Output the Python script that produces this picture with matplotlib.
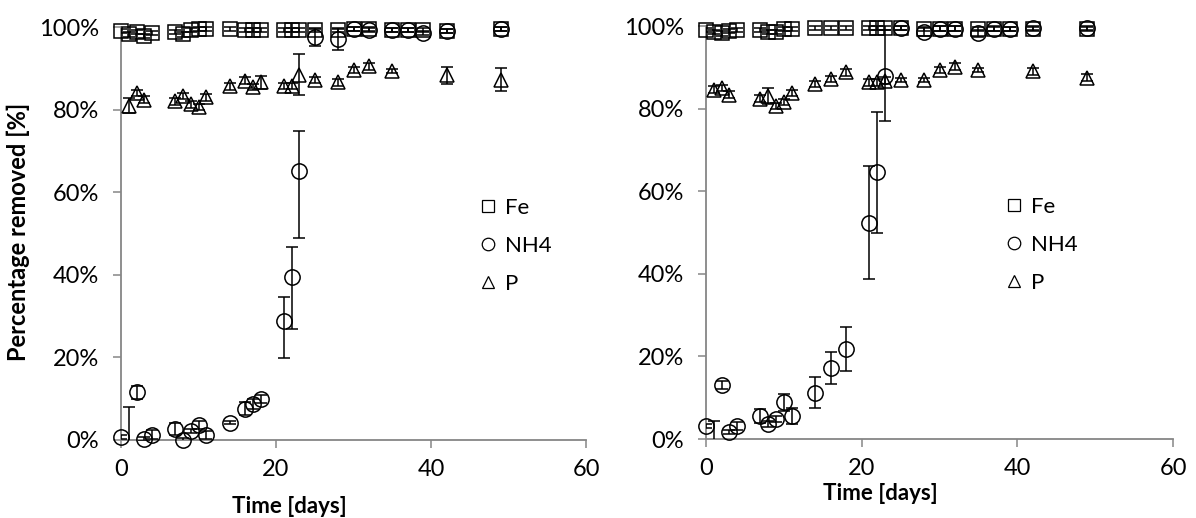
import numpy as np
import matplotlib
matplotlib.use("Agg")
import matplotlib.pyplot as plt
from matplotlib.lines import Line2D
from matplotlib.ticker import FuncFormatter

plt.rcParams['font.family'] = ['Lato', 'DejaVu Sans']

# ---- left run ----
fe_days_l = [0, 1, 2, 3, 4, 7, 8, 9, 10, 11, 14, 16, 17, 18, 21, 22, 23, 25, 28, 30, 32, 35, 37, 39, 42, 49]
fe_l = [99.0, 98.2, 98.8, 97.8, 98.5, 98.8, 98.2, 99.2, 99.5, 99.5, 99.5, 99.3, 99.3, 99.3,
        99.2, 99.2, 99.2, 99.2, 99.3, 99.5, 99.5, 99.3, 99.3, 99.2, 99.0, 99.5]
fe_err_l = [0.5] * len(fe_days_l)

nh4_days_l = [0, 1, 2, 3, 4, 7, 8, 9, 10, 11, 14, 16, 17, 18, 21, 22, 23, 25, 28, 30, 32, 35, 37, 39, 42, 49]
nh4_l = [0.8, -4.0, 11.5, 0.2, 1.3, 2.6, 0.1, 2.2, 3.6, 1.2, 4.2, 7.6, 8.8, 9.9, 28.9, 39.5, 65.2,
         97.5, 97.0, 99.5, 99.2, 99.3, 99.3, 98.6, 99.0, 99.5]
nh4_lo_l = [0.5, 12.0, 1.5, 0.5, 1.0, 1.5, 0.5, 0.5, 1.0, 1.0, 0.3, 1.5, 1.2, 1.0, 9.0, 12.7, 16.2,
            2.0, 2.5, 0.5, 0.5, 0.5, 0.5, 0.5, 0.5, 0.5]
nh4_hi_l = [0.5, 12.0, 1.5, 0.5, 1.0, 1.5, 0.5, 0.5, 1.0, 1.0, 0.3, 1.5, 1.2, 1.0, 5.8, 7.3, 9.6,
            2.0, 2.5, 0.5, 0.5, 0.5, 0.5, 0.5, 0.5, 0.5]

p_days_l = [1, 2, 3, 7, 8, 9, 10, 11, 14, 16, 17, 18, 21, 22, 23, 25, 28, 30, 32, 35, 42, 49]
p_l = [80.9, 84.0, 82.4, 82.0, 83.3, 81.3, 80.6, 83.0, 85.6, 87.0, 85.5, 86.6, 85.7, 85.7, 88.5,
       87.2, 86.6, 89.6, 90.5, 89.4, 88.3, 87.2]
p_err_l = [1.8, 0.8, 0.8, 0.8, 0.8, 0.8, 0.8, 0.8, 0.8, 0.8, 0.8, 1.5, 0.8, 0.8, 4.9,
           0.8, 0.8, 0.8, 0.8, 0.5, 2.0, 2.8]

# ---- right run ----
fe_days_r = [0, 1, 2, 3, 4, 7, 8, 9, 10, 11, 14, 16, 18, 21, 22, 23, 25, 28, 30, 32, 35, 37, 39, 42, 49]
fe_r = [99.0, 98.5, 98.2, 98.8, 99.0, 99.0, 98.5, 98.5, 99.3, 99.3, 99.5, 99.5, 99.5, 99.5, 99.5,
        99.5, 99.5, 99.2, 99.4, 99.4, 99.2, 99.2, 99.3, 99.3, 99.3]
fe_err_r = [0.5] * len(fe_days_r)

nh4_days_r = [0, 1, 2, 3, 4, 7, 8, 9, 10, 11, 14, 16, 18, 21, 22, 23, 25, 28, 30, 32, 35, 37, 39, 42, 49]
nh4_r = [3.2, -4.0, 13.0, 1.6, 3.2, 5.6, 3.6, 4.8, 8.9, 5.6, 11.2, 17.2, 21.8, 52.4, 64.6, 88.0,
         99.6, 98.5, 99.4, 99.4, 98.2, 99.4, 99.2, 99.5, 99.5]
nh4_err_r = [0.5, 8.3, 1.0, 0.5, 1.0, 1.7, 0.8, 0.8, 2.0, 2.0, 3.8, 3.8, 5.3, 13.6, 14.6, 11.0,
             0.5, 1.0, 0.5, 0.5, 0.8, 0.5, 0.5, 0.5, 0.5]

p_days_r = [1, 2, 3, 7, 8, 9, 10, 11, 14, 16, 18, 21, 22, 23, 25, 28, 30, 32, 35, 42, 49]
p_r = [84.6, 85.0, 83.4, 82.4, 83.1, 80.6, 81.6, 83.8, 86.0, 87.2, 88.8, 86.4, 86.4, 86.8, 87.0,
       86.9, 89.4, 90.2, 89.4, 89.0, 87.5]
p_err_r = [0.8, 0.8, 0.8, 0.8, 2.0, 0.8, 0.8, 0.8, 0.8, 0.8, 0.8, 0.8, 0.8, 0.8, 0.5,
           0.5, 0.8, 0.8, 0.5, 0.8, 0.8]

AXIS_GREY = '#868686'
FONT = 16


def draw_series(ax, x, y, yerr, marker, ms):
    x = np.asarray(x, float)
    y = np.asarray(y, float)
    # markers below 0% are hidden, like in the original sheet
    shown = np.where(y >= 0, y, np.nan)
    ax.plot(x, shown, ls='none', marker=marker, ms=ms, mfc='none', mec='black',
            mew=1.1, clip_on=False, zorder=3)
    ax.errorbar(x, y, yerr=yerr, fmt='none', ecolor='black', elinewidth=1.1,
                capsize=4.5, capthick=1.1, zorder=4)


def style_axis(ax):
    ax.set_xlim(0, 60)
    ax.set_ylim(0, 104)
    ax.set_xticks([0, 20, 40, 60])
    ax.set_yticks([0, 20, 40, 60, 80, 100])
    ax.yaxis.set_major_formatter(FuncFormatter(lambda v, _: f"{v:.0f}%"))
    for side in ['top', 'right']:
        ax.spines[side].set_visible(False)
    for side in ['left', 'bottom']:
        ax.spines[side].set_color(AXIS_GREY)
        ax.spines[side].set_linewidth(1.3)
    ax.spines['left'].set_bounds(0, 100)
    ax.tick_params(direction='out', length=6, width=1.1, color=AXIS_GREY, labelsize=17)
    ax.tick_params(axis='x', pad=8)
    ax.tick_params(axis='y', pad=10)


def add_legend(ax, x0):
    handles = [Line2D([], [], ls='none', marker='s', ms=9, mfc='none', mec='black', mew=0.9),
               Line2D([], [], ls='none', marker='o', ms=9, mfc='none', mec='black', mew=0.9),
               Line2D([], [], ls='none', marker='^', ms=9, mfc='none', mec='black', mew=0.9)]
    ax.legend(handles, ['Fe', 'NH4', 'P'], loc='center left', bbox_to_anchor=(x0, 0.452),
              frameon=False, fontsize=FONT, handlelength=0.6, handletextpad=0.45,
              labelspacing=0.8, borderpad=0)


fig = plt.figure(figsize=(11.96, 5.18), dpi=100)
ax1 = fig.add_axes([0.1012, 0.1506, 0.3888, 0.8291])
ax2 = fig.add_axes([0.5903, 0.1525, 0.3905, 0.8291])

runs = [
    (ax1, 0.752, (fe_days_l, fe_l, fe_err_l), (nh4_days_l, nh4_l, [nh4_lo_l, nh4_hi_l]), (p_days_l, p_l, p_err_l)),
    (ax2, 0.622, (fe_days_r, fe_r, fe_err_r), (nh4_days_r, nh4_r, nh4_err_r), (p_days_r, p_r, p_err_r)),
]
for ax, leg_x, fe, nh4, p in runs:
    draw_series(ax, *fe, marker='s', ms=10.5)
    draw_series(ax, *nh4, marker='o', ms=11)
    draw_series(ax, *p, marker='^', ms=10.5)
    style_axis(ax)
    add_legend(ax, leg_x)

ax1.set_ylabel('Percentage removed [%]', fontsize=17, fontweight='bold', va='center')
ax1.yaxis.set_label_coords(-0.2215, 0.484)
ax1.set_xlabel('Time [days]', fontsize=FONT, fontweight='bold', va='center')
ax1.xaxis.set_label_coords(0.361, -0.156)
ax2.set_xlabel('Time [days]', fontsize=FONT, fontweight='bold', va='center')
ax2.xaxis.set_label_coords(0.373, -0.126)

fig.savefig('out.png', dpi=100)
